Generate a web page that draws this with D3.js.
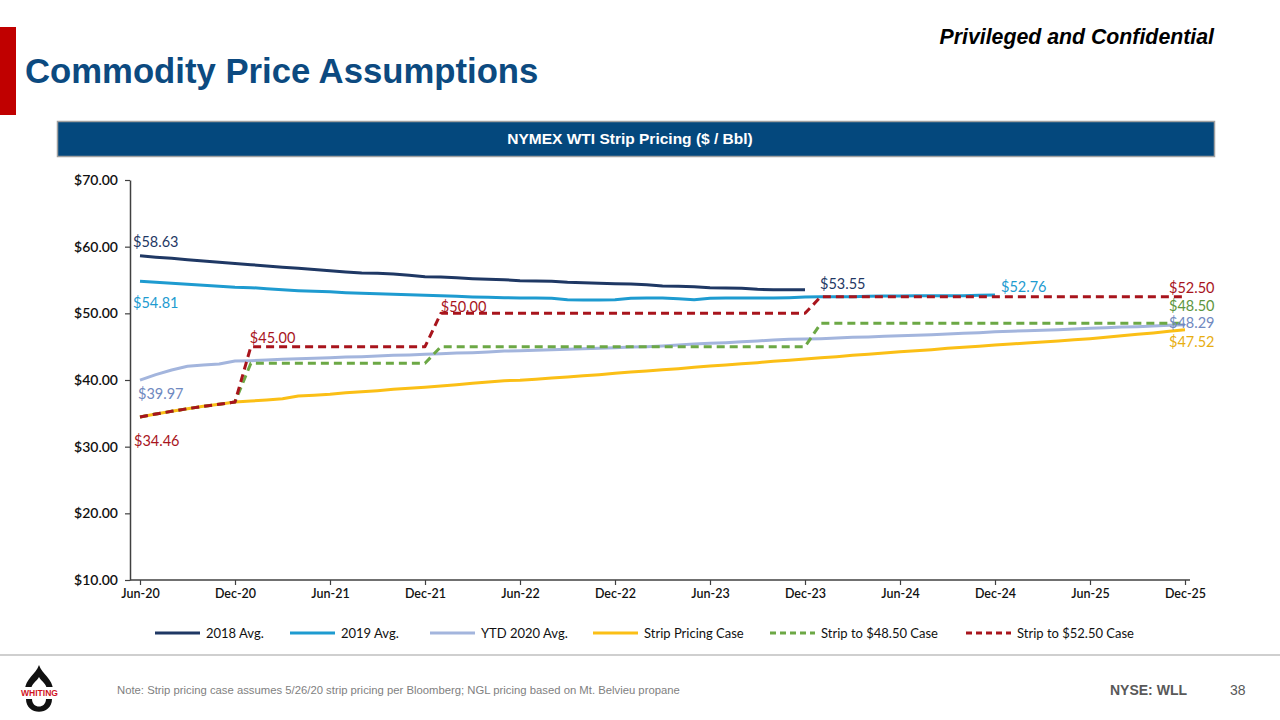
<!DOCTYPE html>
<html><head><meta charset="utf-8">
<script src="https://cdn.jsdelivr.net/npm/d3@7"></script>
<style>
body{margin:0;background:#fff;}
svg{display:block;}
</style></head><body>
<svg id="c" width="1280" height="720"></svg>
<script>
// ---------- DATA ----------
const tickLabels = ["Jun-20","Dec-20","Jun-21","Dec-21","Jun-22","Dec-22","Jun-23","Dec-23","Jun-24","Dec-24","Jun-25","Dec-25"];
const yTicks = [10,20,30,40,50,60,70];
const seriesNames = ["2018 Avg.","2019 Avg.","YTD 2020 Avg.","Strip Pricing Case","Strip to $48.50 Case","Strip to $52.50 Case"];

const avg2018 = [58.63,58.43,58.25,58.05,57.85,57.65,57.48,57.30,57.10,56.92,56.75,56.58,56.40,56.20,56.05,56.00,55.90,55.70,55.50,55.45,55.35,55.20,55.10,55.05,54.90,54.85,54.80,54.65,54.60,54.50,54.45,54.40,54.30,54.10,54.05,54.00,53.85,53.80,53.75,53.60,53.55,53.55,53.55];
const avg2019 = [54.81,54.65,54.50,54.35,54.20,54.05,53.90,53.85,53.70,53.55,53.40,53.30,53.25,53.10,53.00,52.95,52.85,52.80,52.70,52.65,52.55,52.45,52.40,52.35,52.30,52.30,52.25,52.05,52.00,52.00,52.05,52.25,52.30,52.30,52.20,52.05,52.25,52.30,52.30,52.30,52.30,52.35,52.45,52.50,52.50,52.50,52.55,52.60,52.60,52.65,52.65,52.65,52.65,52.70,52.76];
const ytd2020 = [39.97,40.80,41.50,42.05,42.25,42.40,42.85,42.90,43.00,43.10,43.20,43.25,43.35,43.45,43.50,43.60,43.70,43.75,43.85,43.95,44.05,44.10,44.20,44.35,44.40,44.45,44.55,44.60,44.70,44.75,44.85,44.95,45.00,45.10,45.25,45.40,45.50,45.60,45.75,45.85,46.00,46.10,46.15,46.20,46.30,46.40,46.45,46.55,46.65,46.70,46.80,46.90,47.00,47.10,47.25,47.30,47.40,47.45,47.55,47.65,47.75,47.85,47.95,48.00,48.10,48.20,48.29];
const strip = [34.46,34.90,35.30,35.70,36.05,36.35,36.70,36.85,37.00,37.20,37.60,37.70,37.85,38.10,38.25,38.40,38.60,38.75,38.90,39.10,39.30,39.50,39.70,39.90,39.95,40.10,40.30,40.45,40.65,40.80,41.00,41.20,41.35,41.55,41.70,41.90,42.10,42.25,42.45,42.60,42.80,42.95,43.15,43.35,43.50,43.70,43.85,44.05,44.25,44.40,44.55,44.75,44.90,45.05,45.25,45.40,45.55,45.70,45.85,46.05,46.20,46.40,46.65,46.85,47.05,47.30,47.52];
const strip4850 = [34.46,34.90,35.30,35.70,36.05,36.35,36.70,42.50,42.50,42.50,42.50,42.50,42.50,42.50,42.50,42.50,42.50,42.50,42.50,45.00,45.00,45.00,45.00,45.00,45.00,45.00,45.00,45.00,45.00,45.00,45.00,45.00,45.00,45.00,45.00,45.00,45.00,45.00,45.00,45.00,45.00,45.00,45.00,48.50,48.50,48.50,48.50,48.50,48.50,48.50,48.50,48.50,48.50,48.50,48.50,48.50,48.50,48.50,48.50,48.50,48.50,48.50,48.50,48.50,48.50,48.50,48.50];
const strip5250 = [34.46,34.90,35.30,35.70,36.05,36.35,36.70,45.00,45.00,45.00,45.00,45.00,45.00,45.00,45.00,45.00,45.00,45.00,45.00,50.00,50.00,50.00,50.00,50.00,50.00,50.00,50.00,50.00,50.00,50.00,50.00,50.00,50.00,50.00,50.00,50.00,50.00,50.00,50.00,50.00,50.00,50.00,50.00,52.50,52.50,52.50,52.50,52.50,52.50,52.50,52.50,52.50,52.50,52.50,52.50,52.50,52.50,52.50,52.50,52.50,52.50,52.50,52.50,52.50,52.50,52.50,52.50];

// annotation labels: [text, series index, point index]
const annotations = [
  ["$58.63",0,0],["$54.81",1,0],["$39.97",2,0],["$34.46",5,0],
  ["$45.00",5,7],["$50.00",5,19],["$53.55",0,42],["$52.76",1,54],
  ["$52.50",5,66],["$48.50",4,66],["$48.29",2,66],["$47.52",3,66]
];

// ---------- STYLE ----------
const allSeries = [avg2018, avg2019, ytd2020, strip, strip4850, strip5250];
const colors = ["#1F3864","#1E9BD0","#A3B5DD","#FBBF16","#6CA845","#A8141C"];
const labelColors = ["#1F3864","#1E9BD0","#7089C0","#E8AE10","#5E9640","#A8141C"];
const dashed = [false,false,false,false,true,true];
const labelOffsets = [[-7,-9],[-7,27],[-2,19],[-6,29],[-1,-4],[0,-1],[15,-1],[6,-3],[-16,-4],[-16,-12],[-16,3],[-16,17]];

const svg = d3.select("#c");
const FONT = "Lato, 'Open Sans', sans-serif";
const ARIAL = "Arial, 'Liberation Sans', sans-serif";

// Title area
svg.append("rect").attr("x",0).attr("y",27).attr("width",16).attr("height",88).attr("fill","#C00000");
svg.append("text").attr("x",25).attr("y",83).text("Commodity Price Assumptions")
  .attr("font-family",ARIAL).attr("font-weight","bold")
  .attr("font-size",34.7).attr("fill","#0C4A80");
svg.append("text").attr("x",1214).attr("y",44).attr("text-anchor","end").text("Privileged and Confidential")
  .attr("font-family",ARIAL).attr("font-weight","bold").attr("font-style","italic")
  .attr("font-size",21.3).attr("fill","#000");

// header band
svg.append("rect").attr("x",57.5).attr("y",121.5).attr("width",1157).attr("height",35)
  .attr("fill","#04487D").attr("stroke","#A0A0A0").attr("stroke-width",1.5);
svg.append("text").attr("x",630).attr("y",144).attr("text-anchor","middle").text("NYMEX WTI Strip Pricing ($ / Bbl)")
  .attr("font-family",ARIAL).attr("font-weight","bold")
  .attr("font-size",15.5).attr("fill","#fff");

// scales
const x = d3.scaleLinear().domain([0,66]).range([140,1185]);
const y = d3.scaleLinear().domain([10,70]).range([580,180]);

// y axis
const yAxis = svg.append("g").attr("transform","translate(130,0)")
  .call(d3.axisLeft(y).tickValues(yTicks).tickFormat(d=>"$"+d.toFixed(2)).tickSize(5).tickSizeOuter(0));
yAxis.select(".domain").attr("stroke","#404040").attr("stroke-width",1.5);
yAxis.selectAll(".tick line").attr("stroke","#404040").attr("stroke-width",1.2);
yAxis.selectAll("text").attr("font-family",FONT).attr("font-size",14).attr("font-weight",600).attr("fill","#111").attr("dx",-4);

// x axis
const xAxis = svg.append("g").attr("transform","translate(0,580)")
  .call(d3.axisBottom(x).tickValues(d3.range(0,67,6)).tickFormat((d,i)=>tickLabels[i]).tickSize(5).tickSizeOuter(0));
xAxis.select(".domain").remove();
xAxis.append("line").attr("x1",130).attr("x2",1190).attr("y1",0).attr("y2",0).attr("stroke","#404040").attr("stroke-width",1.5);
xAxis.selectAll(".tick line").attr("stroke","#404040").attr("stroke-width",1.2);
xAxis.selectAll("text").attr("font-family",FONT).attr("font-size",12.5).attr("font-weight",600).attr("fill","#111").attr("dy",10);

// lines
const line = d3.line().x((d,i)=>x(i)).y(d=>y(d));
const drawOrder = [3,2,1,0,4,5];
drawOrder.forEach(k=>{
  svg.append("path").datum(allSeries[k]).attr("d",line).attr("fill","none")
    .attr("stroke",colors[k]).attr("stroke-width",3)
    .attr("stroke-dasharray",dashed[k]?"8,5":null)
    .attr("stroke-linejoin","round");
});

// annotations
annotations.forEach((a,j)=>{
  const [t,s,p] = a;
  svg.append("text").attr("x",x(p)+labelOffsets[j][0]).attr("y",y(allSeries[s][p])+labelOffsets[j][1])
    .text(t).attr("font-family",FONT).attr("font-size",14.5).attr("fill",labelColors[s]);
});

// legend
const legX = [155,290,430,593,770,966];
seriesNames.forEach((n,k)=>{
  const g = svg.append("g").attr("transform",`translate(${legX[k]},633)`);
  g.append("line").attr("x1",0).attr("x2",45).attr("y1",0).attr("y2",0)
    .attr("stroke",colors[k]).attr("stroke-width",3).attr("stroke-dasharray",dashed[k]?"6,4":null);
  g.append("text").attr("x",51).attr("y",5).text(n).attr("font-family",FONT).attr("font-size",13).attr("fill","#111");
});

// footer
svg.append("line").attr("x1",0).attr("x2",1280).attr("y1",655).attr("y2",655).attr("stroke","#BFBFBF").attr("stroke-width",1.5);
svg.append("text").attr("x",117).attr("y",694).text("Note: Strip pricing case assumes 5/26/20 strip pricing per Bloomberg; NGL pricing based on Mt. Belvieu propane")
  .attr("font-family",ARIAL).attr("font-size",11.3).attr("fill","#7F7F7F");
svg.append("text").attr("x",1110).attr("y",695).text("NYSE: WLL")
  .attr("font-family",ARIAL).attr("font-weight","bold").attr("font-size",14).attr("fill","#595959");
svg.append("text").attr("x",1230).attr("y",695).text("38")
  .attr("font-family",ARIAL).attr("font-size",14).attr("fill","#595959");

// logo
const logo = svg.append("g");
logo.append("path").attr("d","M39,665 C42,674 53,679 53,690 L25,690 C25,679 36,674 39,665 Z").attr("fill","#111");
logo.append("path").attr("d","M39,677 C41,681 47,684 47,690 L31,690 C31,684 37,681 39,677 Z").attr("fill","#fff");
logo.append("rect").attr("x",20).attr("y",687).attr("width",40).attr("height",10).attr("fill","#fff");
logo.append("text").attr("x",21).attr("y",696).attr("textLength",37).attr("lengthAdjust","spacingAndGlyphs").text("WHITING")
  .attr("font-family",ARIAL).attr("font-weight","bold").attr("font-size",9.5).attr("fill","#D0141E");
logo.append("path").attr("d","M26,699 C26,716 52,716 52,699 L46,699 C46,709 32,709 32,699 Z").attr("fill","#111");
</script>
</body></html>
